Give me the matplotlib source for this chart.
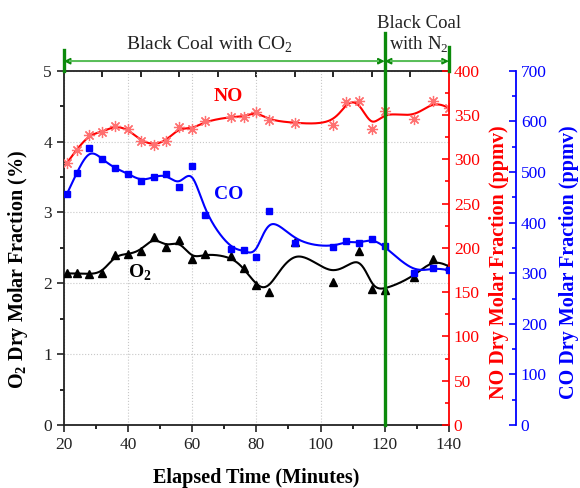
import numpy as np
import matplotlib.pyplot as plt
from matplotlib.ticker import MultipleLocator, FixedLocator
from matplotlib.transforms import blended_transform_factory

plt.rcParams['font.family'] = ['Liberation Serif', 'DejaVu Serif']
plt.rcParams['mathtext.fontset'] = 'custom'
plt.rcParams['mathtext.rm'] = 'Liberation Serif'
plt.rcParams['mathtext.bf'] = 'Liberation Serif:bold'

# elapsed time (minutes) and measured fractions
t_o2 = [21, 24, 28, 32, 36, 40, 44, 48, 52, 56, 60, 64, 72, 76, 80, 84, 92,
        104, 112, 116, 120, 129, 135, 140]
o2 = [2.14, 2.14, 2.13, 2.15, 2.40, 2.41, 2.46, 2.66, 2.51, 2.61, 2.34, 2.42,
      2.38, 2.22, 1.97, 1.88, 2.59, 2.02, 2.46, 1.92, 1.91, 2.09, 2.34, 2.24]

t_gas = [21, 24, 28, 32, 36, 40, 44, 48, 52, 56, 60, 64, 72, 76, 80, 84, 92,
         104, 108, 112, 116, 120, 129, 135, 140]
co = [457, 498, 547, 525, 507, 497, 482, 490, 496, 471, 512, 415, 347, 346,
      332, 422, 359, 351, 364, 359, 368, 354, 300, 311, 306]
no = [296, 311, 328, 331, 338, 334, 321, 316, 321, 336, 334, 343, 348, 348,
      354, 344, 341, 339, 365, 366, 334, 355, 346, 366, 358]

switch_time = 120


def bspline(x, y, n=40):
    # uniform cubic B-spline using the data as control points (clamped ends)
    px = np.r_[x[0], x[0], x, x[-1], x[-1]].astype(float)
    py = np.r_[y[0], y[0], y, y[-1], y[-1]].astype(float)
    s = np.linspace(0, 1, n, endpoint=False)
    b0 = (1 - s) ** 3 / 6
    b1 = (3 * s ** 3 - 6 * s ** 2 + 4) / 6
    b2 = (-3 * s ** 3 + 3 * s ** 2 + 3 * s + 1) / 6
    b3 = s ** 3 / 6
    xs, ys = [], []
    for i in range(len(px) - 3):
        xs.append(b0 * px[i] + b1 * px[i + 1] + b2 * px[i + 2] + b3 * px[i + 3])
        ys.append(b0 * py[i] + b1 * py[i + 1] + b2 * py[i + 2] + b3 * py[i + 3])
    xs.append([px[-1]])
    ys.append([py[-1]])
    return np.concatenate(xs), np.concatenate(ys)


fig = plt.figure(figsize=(5.8, 4.88), dpi=100)
ax = fig.add_axes([0.110, 0.129, 0.664, 0.726])
ax2 = ax.twinx()
ax3 = ax.twinx()
ax3.spines['right'].set_position(('axes', 1.174))

# O2 on the left axis
xs, ys = bspline(t_o2, o2)
ax.plot(xs, ys, color='black', lw=1.5, zorder=3)
ax.plot(t_o2, o2, ls='none', marker='^', ms=6, color='black', zorder=4)

# NO on the first right axis
xs, ys = bspline(t_gas, no)
ax2.plot(xs, ys, color='#ff0000', lw=1.5)
ax2.plot(t_gas, no, ls='none', marker=(8, 2, 0), ms=8, mew=0.9,
         color='#ff7070')

# CO on the outer right axis
xs, ys = bspline(t_gas, co)
ax3.plot(xs, ys, color='#0000ff', lw=1.5)
ax3.plot(t_gas, co, ls='none', marker='s', ms=5, color='#0000ff')

ax.set_xlim(20, 140)
ax.set_ylim(0, 5)
ax2.set_ylim(0, 400)
ax3.set_ylim(0, 700)

ax.xaxis.set_major_locator(MultipleLocator(20))
ax.xaxis.set_minor_locator(MultipleLocator(10))
ax.yaxis.set_major_locator(MultipleLocator(1))
ax.yaxis.set_minor_locator(MultipleLocator(0.5))
ax2.yaxis.set_major_locator(MultipleLocator(50))
ax2.yaxis.set_minor_locator(MultipleLocator(25))
ax3.yaxis.set_major_locator(MultipleLocator(100))
ax3.yaxis.set_minor_locator(MultipleLocator(50))

ax.grid(True, ls=':', color='#c8c8c8', lw=0.8)
ax.tick_params(axis='both', which='major', direction='out', length=5,
               width=1.2, labelsize=12.5, colors='#222222')
ax.tick_params(axis='both', which='minor', direction='out', length=3,
               width=1.2)
for s in ['left', 'bottom', 'top']:
    ax.spines[s].set_linewidth(1.3)
    ax.spines[s].set_color('#222222')
ax.spines['right'].set_visible(False)

# inward ticks along the top edge
top = ax.secondary_xaxis('top')
top.xaxis.set_major_locator(FixedLocator([32, 44, 56, 68, 80, 92, 104, 116, 128]))
top.tick_params(direction='in', length=4, width=1.2, labeltop=False)
top.spines['top'].set_visible(False)

ax2.spines['right'].set_color('#ff0000')
ax2.spines['right'].set_linewidth(1.3)
ax2.tick_params(axis='y', which='both', colors='#ff0000', direction='in',
                width=1.2, labelsize=12.5)
ax2.tick_params(axis='y', which='major', length=5)
ax2.tick_params(axis='y', which='minor', length=3)

ax3.spines['right'].set_color('#0000ff')
ax3.spines['right'].set_linewidth(1.3)
ax3.tick_params(axis='y', which='both', colors='#0000ff', direction='in',
                width=1.2, labelsize=12.5)
ax3.tick_params(axis='y', which='major', length=5)
ax3.tick_params(axis='y', which='minor', length=3)
for a in (ax2, ax3):
    for s in ['left', 'top', 'bottom']:
        a.spines[s].set_visible(False)

ax.set_xlabel('Elapsed Time (Minutes)', fontsize=14.5, fontweight='bold')
ax.xaxis.set_label_coords(0.5, -0.122)
ax.set_ylabel(r'O$_\mathbf{2}$ Dry Molar Fraction (%)', fontsize=14.5,
              fontweight='bold')
ax.yaxis.set_label_coords(-0.088, 0.44)
ax2.set_ylabel('NO Dry Molar Fraction (ppmv)', fontsize=14.5,
               fontweight='bold', color='#ff0000')
ax2.yaxis.set_label_coords(1.104, 0.46)
ax3.set_ylabel('CO Dry Molar Fraction (ppmv)', fontsize=14.5,
               fontweight='bold', color='#0000ff')
ax3.yaxis.set_label_coords(1.286, 0.46)

ax.text(71.4, 4.63, 'NO', color='#ff0000', fontsize=14, fontweight='bold',
        ha='center', va='center')
ax.text(71.4, 3.26, 'CO', color='#0000ff', fontsize=14, fontweight='bold',
        ha='center', va='center')
ax.text(43.6, 2.15, r'O$_\mathbf{2}$', color='black', fontsize=14,
        fontweight='bold', ha='center', va='center')

# phase markers above the plot
green = '#0b8a0b'
tr = blended_transform_factory(ax3.transData, ax3.transAxes)
ax3.plot([switch_time, switch_time], [0, 1.107], color=green, lw=2.4,
         transform=tr, clip_on=False, zorder=10)
ax3.plot([20, 20], [1.0, 1.059], color=green, lw=2.4, transform=tr,
         clip_on=False, zorder=10)
ax3.plot([140, 140], [1.0, 1.068], color=green, lw=2.4, transform=tr,
         clip_on=False, zorder=10)
arrow_y = 1.027
for x0, x1 in [(20, switch_time), (switch_time, 140)]:
    ax3.annotate('', xy=(x0, arrow_y), xytext=(x1, arrow_y), xycoords=tr,
                 textcoords=tr, annotation_clip=False,
                 arrowprops=dict(arrowstyle='<|-|>', color=green, lw=1.2,
                                 mutation_scale=9, shrinkA=0, shrinkB=0))
    ax3.plot([x0 + 2, x1 - 2], [arrow_y, arrow_y], color='#5cc05c', lw=1.4,
             transform=tr, clip_on=False, zorder=11)

ax3.text(65.5, 1.045, r'Black Coal with CO$_2$', transform=tr, fontsize=14,
         ha='center', va='bottom', color='#222222')
ax3.text(130.7, 1.045, 'Black Coal\nwith N$_2$', transform=tr, fontsize=13.5,
         ha='center', va='bottom', color='#222222', linespacing=1.15)

fig.savefig('out.png', dpi=100)
